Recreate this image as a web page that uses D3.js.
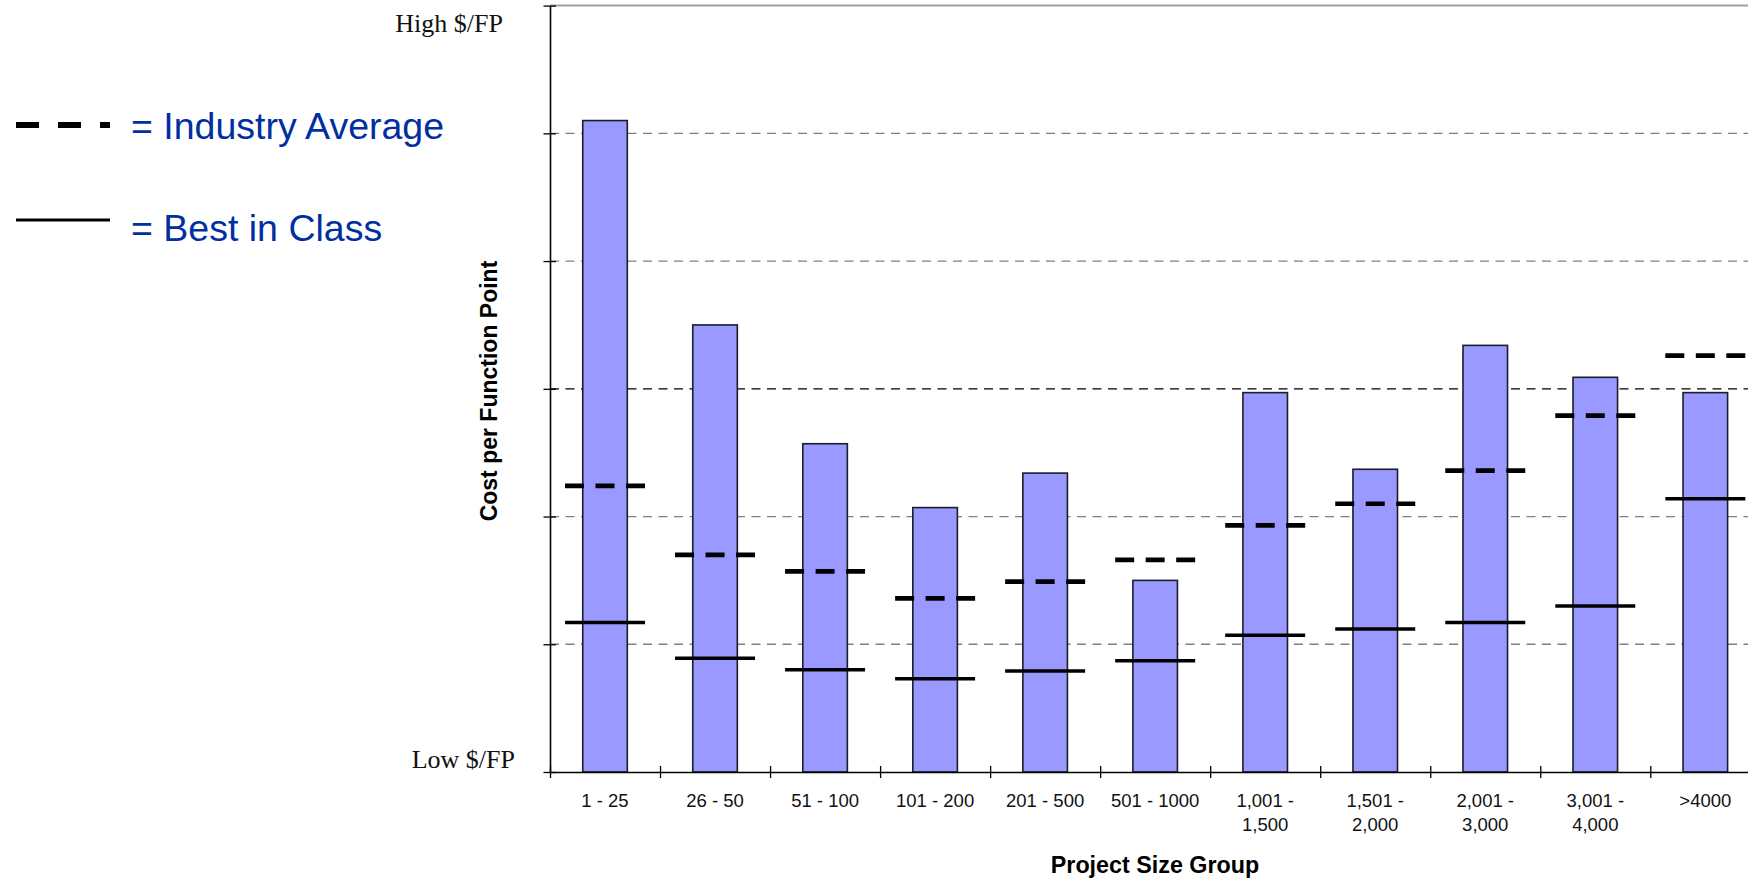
<!DOCTYPE html>
<html>
<head>
<meta charset="utf-8">
<script src="https://cdn.jsdelivr.net/npm/d3@7"></script>
<style>
  html, body { margin: 0; padding: 0; background: #fff; }
  svg { display: block; }
</style>
</head>
<body>
<svg id="chart" width="1748" height="879"></svg>
<script>
// Project size groups (x-axis categories); "\n" splits a label onto two lines
const categories = ["1 - 25", "26 - 50", "51 - 100", "101 - 200", "201 - 500", "501 - 1000",
  "1,001 -\n1,500", "1,501 -\n2,000", "2,001 -\n3,000", "3,001 -\n4,000", ">4000"];

// Cost per function point, relative units (0 = Low $/FP, 6 = High $/FP)
const rangeTop       = [5.10, 3.50, 2.57, 2.07, 2.34, 1.50, 2.97, 2.37, 3.34, 3.09, 2.97];
const industryAvg    = [2.24, 1.70, 1.57, 1.36, 1.49, 1.66, 1.93, 2.10, 2.36, 2.79, 3.26];
const bestInClass    = [1.17, 0.89, 0.80, 0.73, 0.79, 0.87, 1.07, 1.12, 1.17, 1.30, 2.14];

const yTicks = [0, 1, 2, 3, 4, 5, 6];
const yEndLabels = { low: "Low $/FP", high: "High $/FP" };

const svg = d3.select("#chart");
const plotLeft = 550, plotBottom = 772, plotTop = 5.6, band = 110.03;

const x = d3.scaleBand().domain(categories).range([plotLeft, plotLeft + band * categories.length]).padding(0);
const xEdge = d3.scaleLinear().domain([0, categories.length]).range([plotLeft, plotLeft + band * categories.length]);
const y = d3.scaleLinear().domain([0, 6]).range([plotBottom, plotTop]);

// Horizontal gridlines
const grid = svg.append("g");
grid.selectAll("line").data(yTicks.filter(v => v > 0 && v < 6)).join("line")
  .attr("x1", plotLeft).attr("x2", 1748)
  .attr("y1", d => y(d)).attr("y2", d => y(d))
  .attr("stroke", d => d === 3 ? "#000" : "#808080")
  .attr("stroke-width", 1.3)
  .attr("stroke-dasharray", "9,6.5");
// top border of the plot
svg.append("line").attr("x1", plotLeft).attr("x2", 1748).attr("y1", y(6)).attr("y2", y(6))
  .attr("stroke", "#a0a0a0").attr("stroke-width", 2);

// Range bars
svg.append("g").selectAll("rect").data(categories).join("rect")
  .attr("x", d => x(d) + x.bandwidth() * 0.2975)
  .attr("width", x.bandwidth() * 0.405)
  .attr("y", (d, i) => y(rangeTop[i]))
  .attr("height", (d, i) => y(0) - y(rangeTop[i]))
  .attr("fill", "#9999ff")
  .attr("stroke", "#1c1c2a")
  .attr("stroke-width", 1.6);

const markW = x.bandwidth() * 0.727;
// Best in class markers
svg.append("g").selectAll("line").data(categories).join("line")
  .attr("x1", d => x(d) + (x.bandwidth() - markW) / 2)
  .attr("x2", d => x(d) + (x.bandwidth() + markW) / 2)
  .attr("y1", (d, i) => y(bestInClass[i])).attr("y2", (d, i) => y(bestInClass[i]))
  .attr("stroke", "#000").attr("stroke-width", 3.5);
// Industry average markers
svg.append("g").selectAll("line").data(categories).join("line")
  .attr("x1", d => x(d) + (x.bandwidth() - markW) / 2)
  .attr("x2", d => x(d) + (x.bandwidth() + markW) / 2)
  .attr("y1", (d, i) => y(industryAvg[i])).attr("y2", (d, i) => y(industryAvg[i]))
  .attr("stroke", "#000").attr("stroke-width", 4.7)
  .attr("stroke-dasharray", "19,11.5");

// Y axis (ticks cross the axis line, no numeric labels)
const yAxis = svg.append("g").attr("transform", `translate(${plotLeft},0)`)
  .call(d3.axisLeft(y).tickValues(yTicks).tickFormat("").tickSize(6).tickSizeOuter(0));
yAxis.select(".domain").attr("stroke", "#000").attr("stroke-width", 1.6);
yAxis.selectAll(".tick line").attr("x1", 6).attr("x2", -6.5).attr("stroke", "#000").attr("stroke-width", 1.3);

// X axis with ticks at group boundaries
const xAxis = svg.append("g").attr("transform", `translate(0,${plotBottom})`)
  .call(d3.axisBottom(xEdge).tickValues(d3.range(0, categories.length + 1)).tickFormat("").tickSize(6).tickSizeOuter(0));
xAxis.select(".domain").attr("stroke", "#000").attr("stroke-width", 1.6);
xAxis.selectAll(".tick line").attr("y1", -6).attr("y2", 6).attr("stroke", "#000").attr("stroke-width", 1.3);

// Category labels
const labels = svg.append("g").selectAll("text").data(categories).join("text")
  .attr("text-anchor", "middle")
  .attr("font-family", "Arial, 'Liberation Sans', sans-serif")
  .attr("font-size", 18.5)
  .attr("fill", "#111");
labels.each(function (d) {
  const t = d3.select(this);
  d.split("\n").forEach((line, k) => {
    t.append("tspan").attr("x", x(d) + x.bandwidth() / 2).attr("y", 806.7 + k * 24.5).text(line);
  });
});

// Y end labels
svg.append("text").attr("x", 503).attr("y", 32).attr("text-anchor", "end")
  .attr("font-family", "'Times New Roman', 'Liberation Serif', serif").attr("font-size", 26)
  .attr("fill", "#111").text(yEndLabels.high);
svg.append("text").attr("x", 515).attr("y", 767.5).attr("text-anchor", "end")
  .attr("font-family", "'Times New Roman', 'Liberation Serif', serif").attr("font-size", 26)
  .attr("fill", "#111").text(yEndLabels.low);

// Axis titles
svg.append("text").attr("transform", "translate(496.5,391) rotate(-90)")
  .attr("text-anchor", "middle").attr("font-family", "Arial, 'Liberation Sans', sans-serif")
  .attr("font-weight", "bold").attr("font-size", 23).attr("fill", "#000")
  .text("Cost per Function Point");
svg.append("text").attr("x", 1155).attr("y", 872.5)
  .attr("text-anchor", "middle").attr("font-family", "Arial, 'Liberation Sans', sans-serif")
  .attr("font-weight", "bold").attr("font-size", 23.3).attr("fill", "#000")
  .text("Project Size Group");

// Legend
const legend = svg.append("g");
legend.append("line").attr("x1", 16).attr("x2", 110).attr("y1", 125).attr("y2", 125)
  .attr("stroke", "#000").attr("stroke-width", 6).attr("stroke-dasharray", "23,19");
legend.append("line").attr("x1", 16).attr("x2", 110).attr("y1", 220).attr("y2", 220)
  .attr("stroke", "#000").attr("stroke-width", 3);
legend.append("text").attr("x", 131).attr("y", 139.3)
  .attr("font-family", "Arial, 'Liberation Sans', sans-serif").attr("font-size", 37.5)
  .attr("fill", "#0030a0").text("= Industry Average");
legend.append("text").attr("x", 131).attr("y", 240.5)
  .attr("font-family", "Arial, 'Liberation Sans', sans-serif").attr("font-size", 37.5)
  .attr("fill", "#0030a0").text("= Best in Class");
</script>
</body>
</html>
